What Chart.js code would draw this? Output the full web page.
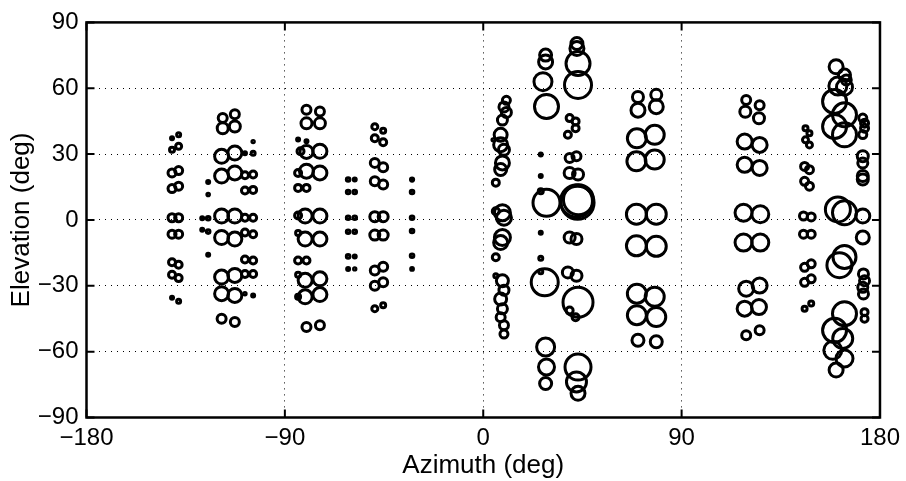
<!DOCTYPE html>
<html><head><meta charset="utf-8">
<script src="https://cdn.jsdelivr.net/npm/chart.js@4/dist/chart.umd.min.js"></script>
<style>html,body{margin:0;padding:0;background:#fff}#wrap{width:906px;height:481px}</style>
</head><body><div id="wrap"><canvas id="c" width="906" height="481"></canvas></div>
<script>
// Tick values
const azimuthTicks = [-180, -90, 0, 90, 180];
const elevationTicks = [-90, -60, -30, 0, 30, 60, 90];

// Each group: [azimuth (deg), elevation (deg), magnitude]
const groupA = [[-141.2,37.2,1.5],[-138.2,38.8,2],[-141.2,32,2.5],[-138.2,33.6,3],[-141.2,21.4,4],[-138.2,22.5,4],[-141.2,14.3,4],[-138.2,15.4,4],[-141.2,1,4],[-138.2,1,4],[-141.2,-6.5,4],[-138.2,-6.5,4],[-141.2,-19.3,3.5],[-138.2,-20.4,3.5],[-141.2,-25,3.5],[-138.2,-26.5,3.5],[-141.2,-35.4,1.5],[-138.2,-37,2]];
const groupB = [[-124.8,17.3,1.5],[-124.8,11.6,1.3],[-127.5,0.8,1.5],[-124.8,0.8,1.8],[-127.5,-4.5,1.5],[-124.8,-5.3,1.8],[-124.8,-15.8,1.5]];
const groupC = [[-118.2,46.5,4.5],[-112.7,48.2,4.5],[-118.2,41.8,5.5],[-112.7,42.6,5.5],[-118.7,29,7],[-112.7,30.5,7],[-118.7,20,7],[-112.7,21.4,7],[-118.7,1.8,7],[-112.7,1.8,7],[-118.7,-8,7],[-112.7,-8.7,7],[-118.7,-26,7],[-112.7,-25.3,7],[-118.7,-33.6,7],[-112.7,-34.4,7],[-118.7,-45,4.5],[-112.7,-46.5,4.5]];
const groupD = [[-104.4,35.7,1.2],[-108.1,30.4,1.5],[-104.4,30.4,2],[-108.1,20.4,3.5],[-104.4,20.7,3.5],[-108.1,13.4,3.5],[-104.4,13.7,3.5],[-108.1,1,3.5],[-104.4,1,3.5],[-108.1,-5.7,3.5],[-104.4,-6.5,3.5],[-108.1,-18,3.5],[-104.4,-18.5,3.5],[-108.1,-24.6,3.5],[-104.4,-24.6,3.5],[-108.1,-33.6,1.2],[-104.4,-34.4,1.5]];
const groupE = [[-80.2,50.2,4.5],[-74.1,49.4,4.5],[-80.2,44,5.5],[-74.1,44,5.5],[-84,36.6,1.5],[-80.2,35.8,1.5],[-82.9,31.3,3.5],[-80.2,31,6.5],[-74.1,31.3,7],[-84,21.4,3.5],[-80.2,22.2,7],[-74.1,21.4,7],[-84,14.6,3.5],[-80.2,14.6,3.5],[-84,2,3.5],[-80.8,1.8,7],[-74.1,1.8,7],[-84,-6,2.5],[-80.8,-8.7,7],[-74.1,-8.7,7],[-84,-18.5,3.5],[-80.2,-18.5,3.5],[-84,-25,2.5],[-80.8,-27.5,7],[-74.1,-26.8,7],[-84,-35,2.5],[-80.8,-35,7],[-74.1,-34,7],[-80.2,-48.8,4.5],[-74.1,-48,4.5]];
const groupF = [[-61.3,18.4,1.8],[-58.3,18.4,1.5],[-61.3,12.7,1.8],[-58.3,12.7,1.8],[-61.3,1,1.8],[-58.3,1,1.8],[-61.3,-5.4,1.8],[-58.3,-5.4,1.8],[-61.3,-16.6,1.8],[-58.3,-16.6,1.5],[-61.3,-22.3,1.5],[-58.3,-22.3,1.2]];
const groupG = [[-49.2,42.5,3],[-45.4,40.6,2.5],[-49.2,37.2,3.5],[-45.4,35.4,3.5],[-49.2,26,4.5],[-45.4,24,4.5],[-49.2,17.6,4.5],[-45.4,16.1,4.5],[-49.2,1.5,5],[-45.4,1.5,5],[-49.2,-6.9,5],[-45.4,-6.9,5],[-49.2,-23,4.5],[-45.4,-21.3,4.5],[-49.2,-30,4.5],[-45.4,-28.4,4.5],[-49.2,-40.4,3],[-45.4,-38.9,2.5]];
const groupH = [[-32.3,18.4,1.6],[-32.3,12.7,1.8],[-32.3,1,1.8],[-32.3,-5,1.8],[-32.3,-16.3,1.8],[-32.3,-22.3,1.4]];
const groupI = [[10.5,54.5,4],[9.4,51.5,5],[10.5,49,5],[8.7,45.5,5],[4.5,36.5,1.2],[7.9,38.8,6.5],[7.9,34.3,7],[9.4,32,5.5],[8.7,26,7],[7.9,23,6],[5.7,17,3.5],[5.7,4,3.5],[8.7,3.3,8],[9.4,1,7.5],[8.7,-8,8],[7.9,-10.3,7],[5.7,-17,3.5],[5.7,-25.4,2],[8.7,-27.7,6],[9.4,-32,5],[7.9,-36,6],[8.7,-40.5,5],[7.9,-44.3,4.5],[9.4,-48,4.5],[9.4,-52,4]];
const groupJ = [[28.3,75.1,6],[28.3,72,7],[27.1,63,9],[28.7,51.7,12],[26.1,29.8,1.5],[26.1,20,1.5],[26.1,13.1,2.5],[28.7,7.8,13.5],[26.1,-5.8,1.5],[26.1,-17.4,2],[26.1,-23.6,2],[27.9,-28.4,13.5],[28.3,-57.9,9],[28.7,-67,8],[28.3,-74.5,6]];
const groupK = [[42.5,80.4,6],[42.5,78.1,7],[43,71.3,12],[43,61.5,13.5],[39.2,46.4,3.5],[41.9,44.9,3.5],[41.9,41.8,3.5],[38.4,38.8,3.5],[39.2,28.2,4.5],[42.3,29,4.5],[39.2,21.4,5.5],[43,20.7,5.5],[42.3,8.6,16],[43.2,9.2,15],[42.8,7.8,16.5],[39.2,-8,5.5],[42.3,-8.7,5.5],[38.4,-23.9,5.5],[42.3,-25.4,5.5],[43,-37.5,15],[39.2,-41.3,3.5],[41.9,-44.3,3.5],[43,-67,13],[42.3,-73.8,10],[43,-79,7]];
const groupL = [[70.2,56,5.5],[78.5,57,5.5],[70.2,50,7],[78.5,51.6,7],[69.7,37.2,9.5],[77.8,38.8,9.5],[69.5,26.7,9.5],[77.8,27.5,9.5],[69.5,2.6,10],[78.5,2.6,10],[69.5,-11.8,10],[78.5,-12,10],[69.7,-33.6,9.5],[77.8,-35,9.5],[69.7,-43.4,9.5],[78.5,-44.2,9.5],[70.2,-54.8,6],[78.5,-55.5,6]];
const groupM = [[119.3,54.6,4.5],[125.4,52.3,4.5],[118.9,49.3,5.5],[125.1,46.3,5.5],[118.6,35.7,7.5],[125.4,34.2,7.5],[118.6,25.1,7.5],[125.4,23.7,7.5],[118.1,3.3,8.5],[125.7,2.6,8.5],[118.1,-10.3,8.5],[125.7,-10.3,8.5],[119.3,-31.3,7.5],[125.4,-29.9,7.5],[118.6,-40.4,7.5],[125.1,-39.7,7.5],[119.3,-52.5,4.5],[125.4,-50.2,4.5]];
const groupN = [[146.2,41.8,2.5],[148,39.5,2.5],[146.2,36.5,3],[148,34.2,3],[145.8,24.4,4],[148,22.9,4],[145.8,17.6,4],[148,15.4,4],[145.3,1.8,4],[148.8,1.4,4],[145.3,-6.5,4],[148.8,-6.5,4],[145.8,-21.6,4],[148.8,-20,4],[145.8,-28.4,4],[148.8,-26.8,4],[145.8,-40.4,2.5],[148.8,-38.1,2.5]];
const groupO = [[160.1,69.8,7],[163.9,66,6],[164.7,63.8,5],[160.9,61,9],[163.9,60.5,8],[159.4,54,12],[163.9,47.9,12],[159.4,42.6,12],[163.9,38.8,12],[160.9,4.8,12.5],[163.9,3.3,12],[161.6,-20.6,12.5],[163.9,-16.9,11.5],[163.9,-42.7,12],[159.4,-50.3,12],[163.1,-54,10],[158.6,-59.4,9],[163.9,-63.1,8.5],[160.1,-68.4,7]];
const groupP = [[172.2,46.4,4],[173,44.1,4],[173,41.8,4],[172.2,38.9,4],[172.2,29,5.5],[172.2,26,5],[172.2,20,5.5],[172.2,18.4,5.5],[172.2,1.8,7],[172.2,-8,6.5],[172.5,-24.6,5],[173,-27.7,5],[172.2,-30.7,5],[172.5,-33.7,5],[173,-42,3.5],[173,-45,3.5]];

const groups = [groupA, groupB, groupC, groupD, groupE, groupF, groupG, groupH, groupI, groupJ, groupK, groupL, groupM, groupN, groupO, groupP];

const fmt = v => (v < 0 ? '\u2212' + Math.abs(v) : String(v));
const FONT = 'Liberation Sans, Arial, Helvetica, sans-serif';
const tickFont = { family: FONT, size: 24 };
const titleFont = { family: FONT, size: 26 };

const framePlugin = {
  id: 'frame',
  afterDraw(chart) {
    const { ctx, chartArea: a, scales: { x, y } } = chart;
    ctx.save();
    ctx.strokeStyle = '#000';
    ctx.lineWidth = 2;
    const L = 8;
    ctx.beginPath();
    azimuthTicks.forEach(v => {
      const px = x.getPixelForValue(v);
      ctx.moveTo(px, a.bottom); ctx.lineTo(px, a.bottom - L);
      ctx.moveTo(px, a.top); ctx.lineTo(px, a.top + L);
    });
    elevationTicks.forEach(v => {
      const py = y.getPixelForValue(v);
      ctx.moveTo(a.left, py); ctx.lineTo(a.left + L, py);
      ctx.moveTo(a.right, py); ctx.lineTo(a.right - L, py);
    });
    ctx.stroke();
    ctx.lineWidth = 2.5;
    ctx.strokeRect(a.left, a.top, a.right - a.left, a.bottom - a.top);
    ctx.restore();
  }
};

new Chart(document.getElementById('c'), {
  type: 'bubble',
  data: {
    datasets: groups.map(g => ({
      data: g.map(p => ({ x: p[0], y: p[1], r: p[2] })),
      borderColor: '#000',
      backgroundColor: 'rgba(0,0,0,0)',
      borderWidth: 3,
      hoverRadius: 0
    }))
  },
  options: {
    responsive: false,
    animation: false,
    devicePixelRatio: 1,
    events: [],
    layout: { padding: { top: 20, right: 25.5, left: 0, bottom: 0 } },
    plugins: { legend: { display: false }, tooltip: { enabled: false } },
    scales: {
      x: {
        type: 'linear', min: -180, max: 180,
        afterBuildTicks: s => { s.ticks = azimuthTicks.map(v => ({ value: v })); },
        afterFit: s => { s.height = 481 - 417.5; },
        ticks: { font: tickFont, color: '#000', padding: 6, maxRotation: 0, autoSkip: false, callback: v => fmt(v) },
        grid: { color: '#000', lineWidth: 1, drawTicks: false },
        border: { display: false, dash: [1, 5] },
        title: { display: true, text: 'Azimuth (deg)', font: titleFont, color: '#000', padding: { top: 0, bottom: 0 } }
      },
      y: {
        type: 'linear', min: -90, max: 90,
        afterBuildTicks: s => { s.ticks = elevationTicks.map(v => ({ value: v })); },
        afterFit: s => { s.width = 86.5; },
        ticks: { font: tickFont, color: '#000', padding: 8, autoSkip: false, callback: v => fmt(v) },
        grid: { color: '#000', lineWidth: 1, drawTicks: false },
        border: { display: false, dash: [1, 5] },
        title: { display: true, text: 'Elevation (deg)', font: titleFont, color: '#000', padding: { top: 6, bottom: 0 } }
      }
    }
  },
  plugins: [framePlugin]
});
</script>
</body></html>
